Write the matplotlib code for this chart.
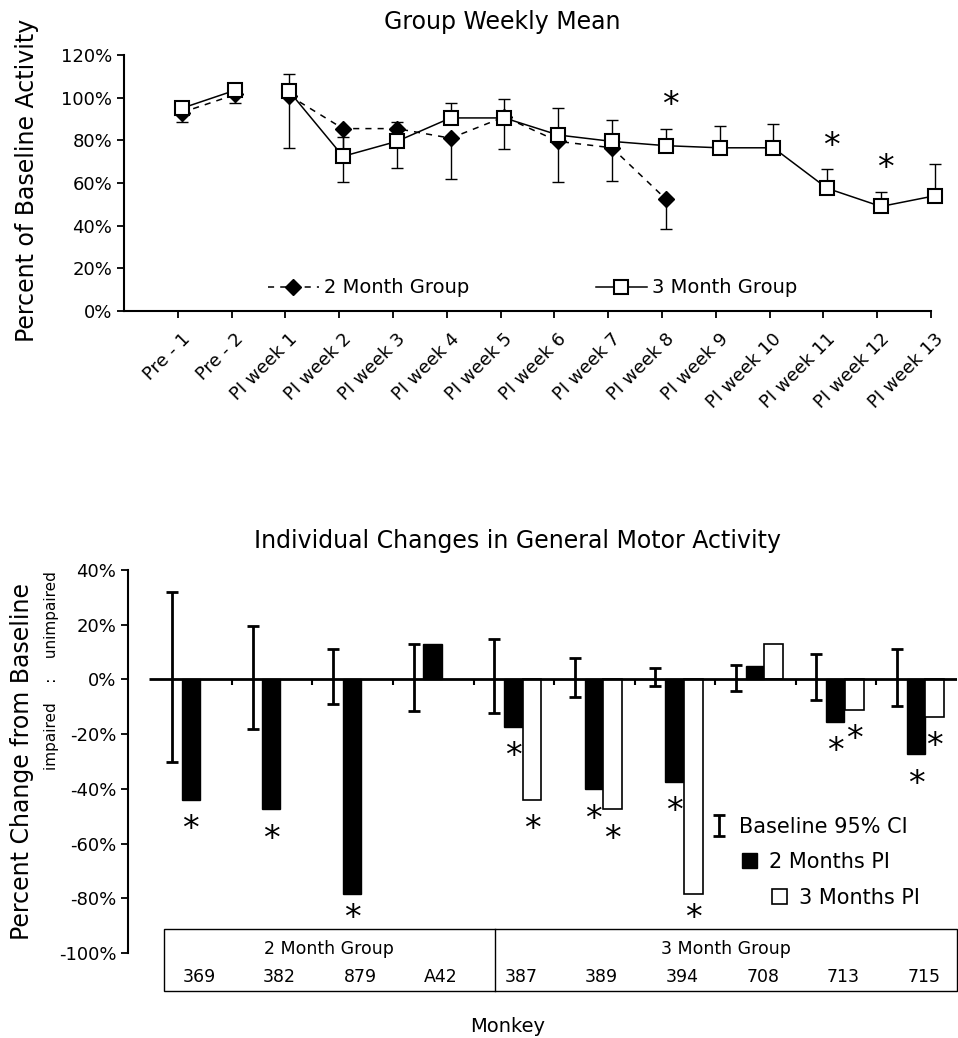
import numpy as np
import matplotlib
matplotlib.use('Agg')
import matplotlib.pyplot as plt
import matplotlib.transforms as mtransforms
from matplotlib.patches import Rectangle
from matplotlib.lines import Line2D

plt.rcParams['font.family'] = ['DejaVu Sans']
plt.rcParams['axes.unicode_minus'] = False

# top panel: weekly group means, % of baseline
weeks = ['Pre - 1', 'Pre - 2'] + ['PI week %d' % i for i in range(1, 14)]
two_month_mean = [93, 101.5, 101, 85.5, 85.5, 81, 91, 79.5, 76.5, 52.5]
two_month_err_lo = [4.5, 4, 24.5, 25, 18.5, 19, 15, 19, 15.5, 14]
three_month_mean = [95, 103.5, 103, 72.5, 79.5, 90.5, 90.5, 82.5, 79.5, 77.5, 76.5, 76.5, 57.5, 49, 54]
three_month_err_hi = [2, 2, 8, 9, 9, 7, 9, 12.5, 10, 8, 10, 11, 9, 7, 15]
weekly_sig = ['PI week 8', 'PI week 11', 'PI week 12']

# bottom panel: individual change from baseline, %
monkeys = ['369', '382', '879', 'A42', '387', '389', '394', '708', '713', '715']
groups = ['2 Month Group', '3 Month Group']
ci_hi = [32, 19.5, 11, 12.8, 14.7, 7.7, 4.2, 5.2, 9.2, 11.1]
ci_lo = [-30.3, -18.3, -8.9, -11.5, -12.4, -6.4, -2.3, -4.2, -7.6, -9.8]
pi2_change = [-44.1, -47.5, -78.5, 12.8, -17.3, -40.2, -37.4, 4.9, -15.5, -27.4]
pi3_change = [np.nan, np.nan, np.nan, np.nan, -44.1, -47.5, -78.3, 12.8, -11.0, -13.7]
pi2_sig = [1, 1, 1, 0, 1, 1, 1, 0, 1, 1]
pi3_sig = [0, 0, 0, 0, 1, 1, 1, 0, 1, 1]

W, H = 958, 1038
fig = plt.figure(figsize=(W / 100, H / 100), dpi=100)


def fx(px):
    return px / W


def fy(py):
    return 1 - py / H


def star(ax, x, y, fs=24):
    # place the ink centre of '*' on (x, y)
    off = mtransforms.ScaledTranslation(0, -0.56 * fs / 72, fig.dpi_scale_trans)
    ax.text(x, y, '*', ha='center', va='baseline', fontsize=fs,
            transform=ax.transData + off, clip_on=False)


# ---------------- top panel ----------------
unit = (931 - 124) / 15
ax1 = fig.add_axes([fx(124), fy(311), unit * 15.4 / W, (311 - 55) / H])
x = np.arange(1, len(weeks) + 1)
xo = x + 0.07
n2 = len(two_month_mean)

ax1.errorbar(xo[:n2], two_month_mean, yerr=[two_month_err_lo, np.zeros(n2)],
             fmt='none', ecolor='k', elinewidth=1, capsize=4, capthick=1, zorder=2)
ax1.errorbar(xo, three_month_mean, yerr=[np.zeros(len(x)), three_month_err_hi],
             fmt='none', ecolor='k', elinewidth=1, capsize=4, capthick=1, zorder=2)

dash = (0, (4, 4))
two_style = dict(color='k', ls=dash, lw=1.1, marker='D', ms=8, zorder=3)
three_style = dict(color='k', ls='-', lw=1.1, marker='s', ms=10, mfc='white',
                   mec='k', mew=1.5, zorder=4)
ax1.plot(xo[:2], two_month_mean[:2], **two_style)
l2, = ax1.plot(xo[2:n2], two_month_mean[2:], **two_style)
ax1.plot(xo[:2], three_month_mean[:2], **three_style)
l3, = ax1.plot(xo[2:], three_month_mean[2:], **three_style)

for w in weekly_sig:
    i = weeks.index(w)
    star(ax1, x[i] + 0.15, three_month_mean[i] + three_month_err_hi[i] + 15)

ax1.set_xlim(0, 15.4)
ax1.set_ylim(0, 120)
ax1.set_yticks(np.arange(0, 121, 20))
ax1.set_yticklabels(['%d%%' % v for v in range(0, 121, 20)], fontsize=13)
ax1.set_xticks(x)
ax1.set_xticklabels([])
# rotated week labels, hung just below and right of each tick
lab_tr = (mtransforms.blended_transform_factory(ax1.transData, ax1.transAxes)
          + mtransforms.ScaledTranslation(3 / 100, -19 / 100, fig.dpi_scale_trans))
for xi, w in zip(x, weeks):
    ax1.text(xi, 0, w, transform=lab_tr, rotation=45, ha='right', va='top',
             rotation_mode='anchor', fontsize=13, clip_on=False)
for s in ['top', 'right']:
    ax1.spines[s].set_visible(False)
for s in ['left', 'bottom']:
    ax1.spines[s].set_linewidth(1.5)
ax1.spines['bottom'].set_bounds(0, 15)
ax1.tick_params(direction='out', length=5, width=1.3)

ax1.legend([l2, l3], groups, loc='center', bbox_to_anchor=(7.6 / 15.4, 0.09),
           ncol=2, frameon=False, fontsize=14, handlelength=2.6,
           columnspacing=6.5, handletextpad=0.3, numpoints=1)

fig.text(fx(502), fy(22), 'Group Weekly Mean', ha='center', va='center', fontsize=17)
fig.text(fx(27), fy(180), 'Percent of Baseline Activity', rotation=90,
         ha='center', va='center', fontsize=17)

# ---------------- bottom panel ----------------
ax2 = fig.add_axes([fx(128), fy(953), (957 - 128) / W, (953 - 570) / H])
idx = np.arange(len(monkeys))
pi2 = np.array(pi2_change)
pi3 = np.array(pi3_change)
has3 = ~np.isnan(pi3)

h_ci = ax2.errorbar(idx + 0.256, np.zeros(len(idx)),
                    yerr=[-np.array(ci_lo), np.array(ci_hi)], fmt='none',
                    ecolor='k', elinewidth=2, capsize=4, capthick=2, zorder=3)
h2 = ax2.bar(idx + 0.49, pi2, width=0.225, color='k', edgecolor='k', lw=1, zorder=2)
h3 = ax2.bar(idx[has3] + 0.725, pi3[has3], width=0.235, color='white',
             edgecolor='k', lw=1.2, zorder=2)

ax2.hlines(0, -0.03, 10, color='k', lw=2, zorder=4)
ax2.vlines(np.arange(1, 10), -2, 0, color='k', lw=1.5, zorder=4)

for i in idx:
    if pi2_sig[i]:
        star(ax2, i + 0.49, max(pi2[i] - 7.5, -84))
    if pi3_sig[i]:
        star(ax2, i + 0.725, max(pi3[i] - 7.5, -84))

ax2.set_xlim(-0.29, 10)
ax2.set_ylim(-100, 40)
ax2.set_yticks(np.arange(-100, 41, 20))
ax2.set_yticklabels(['%d%%' % v for v in range(-100, 41, 20)], fontsize=13)
ax2.set_xticks([])
for s in ['top', 'right', 'bottom']:
    ax2.spines[s].set_visible(False)
ax2.spines['left'].set_linewidth(1.5)
ax2.tick_params(direction='out', length=5, width=1.3)

leg_items = [(h_ci, 'Baseline 95% CI', 712, 827),
             (h2, '2 Months PI', 742, 862),
             (h3, '3 Months PI', 772, 898)]
for h, lab, px, py in leg_items:
    lg = ax2.legend([h], [lab], loc='center left',
                    bbox_to_anchor=(fx(px), fy(py)), bbox_transform=fig.transFigure,
                    frameon=False, fontsize=15, handlelength=0.7, handleheight=0.7,
                    handletextpad=0.6, borderpad=0, borderaxespad=0)
    ax2.add_artist(lg)
ax2.legend_ = None

fig.text(fx(517), fy(541), 'Individual Changes in General Motor Activity',
         ha='center', va='center', fontsize=17)
fig.text(fx(22), fy(762), 'Percent Change from Baseline', rotation=90,
         ha='center', va='center', fontsize=17)
side = mtransforms.blended_transform_factory(fig.transFigure, ax2.transData)
ax2.text(fx(52), 3.2, 'impaired    :    unimpaired', transform=side, rotation=90,
         ha='center', va='center', fontsize=11, clip_on=False)

# table of monkeys under the bars
tt = mtransforms.blended_transform_factory(ax2.transData, fig.transFigure)
edges = [0.16, 4.26, 10.0]
ax2.add_patch(Rectangle((edges[0], fy(991)), edges[2] - edges[0], (991 - 929) / H,
                        transform=tt, fill=False, lw=1, ec='k', clip_on=False))
ax2.add_line(Line2D([edges[1], edges[1]], [fy(991), fy(929)], transform=tt,
                    color='k', lw=1, clip_on=False))
for g, a, b in zip(groups, edges[:-1], edges[1:]):
    ax2.text((a + b) / 2, fy(949), g, transform=tt, ha='center', va='center',
             fontsize=12.5, clip_on=False)
for i, m in enumerate(monkeys):
    ax2.text(i + 0.59, fy(977), m, transform=tt, ha='center', va='center',
             fontsize=12.5, clip_on=False)
fig.text(fx(508), fy(1026), 'Monkey', ha='center', va='center', fontsize=14)

fig.savefig('out.png', dpi=100)
